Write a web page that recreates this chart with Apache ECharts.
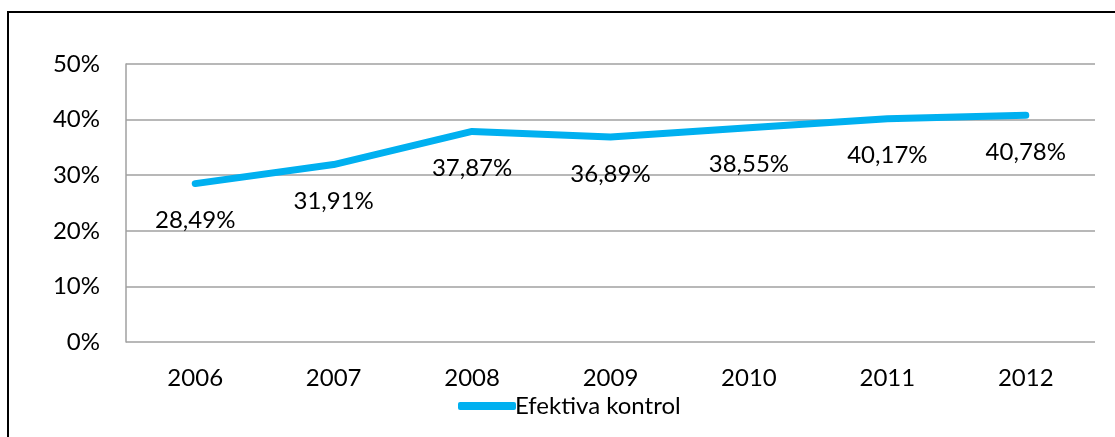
<!DOCTYPE html>
<html>
<head>
<meta charset="utf-8">
<script src="https://cdn.jsdelivr.net/npm/echarts@6/dist/echarts.min.js"></script>
<style>
  html, body { margin: 0; padding: 0; background: #fff; overflow: hidden; }
  #frame { position: absolute; left: 7px; top: 11px; width: 1200px; height: 500px; border: 2px solid #000; }
  #chart { position: absolute; left: 0; top: 0; width: 1115px; height: 437px; }
</style>
</head>
<body>
<div id="frame"></div>
<div id="chart"></div>
<script>
const years = ['2006', '2007', '2008', '2009', '2010', '2011', '2012']
const efektivaKontrol = [28.49, 31.91, 37.87, 36.89, 38.55, 40.17, 40.78]
const seriesName = 'Efektiva kontrol'

const font = 'Lato, "Open Sans", sans-serif'
const fs = 24
const blue = '#00b0f0'
const chart = echarts.init(document.getElementById('chart'), null, { renderer: 'canvas' })

chart.setOption({
  animation: false,
  textStyle: { fontFamily: font, color: '#000' },
  grid: { left: 126, right: 20, top: 64, bottom: 95 },
  legend: {
    data: [{ name: seriesName, icon: 'roundRect', itemStyle: { color: blue, opacity: 1 } }],
    left: 453,
    top: 389,
    itemWidth: 58,
    itemHeight: 8,
    itemGap: 4,
    textStyle: { fontFamily: font, fontSize: fs, color: '#000', padding: [0, 0, 0, -6] }
  },
  xAxis: {
    type: 'category',
    data: years,
    boundaryGap: true,
    axisLine: { show: false },
    axisTick: { show: false },
    axisLabel: { fontSize: fs, color: '#000', margin: 24, fontFamily: font }
  },
  yAxis: {
    type: 'value',
    min: 0,
    max: 50,
    interval: 10,
    axisLine: { show: true, lineStyle: { color: '#a0a0a0', width: 1.5 } },
    axisTick: { show: false },
    splitLine: { lineStyle: { color: '#a0a0a0', width: 1.5 } },
    axisLabel: { fontSize: fs, color: '#000', margin: 26, fontFamily: font, formatter: v => v + '%' }
  },
  series: [{
    name: seriesName,
    type: 'line',
    data: efektivaKontrol,
    symbol: 'circle',
    symbolSize: 2,
    showSymbol: true,
    showAllSymbol: true,
    color: blue,
    lineStyle: { color: blue, width: 7, cap: 'round', join: 'round' },
    itemStyle: { color: blue },
    label: {
      show: true,
      position: 'bottom',
      distance: 24,
      fontSize: fs,
      color: '#000',
      fontFamily: font,
      formatter: p => p.value.toFixed(2).replace('.', ',') + '%'
    }
  }]
})
</script>
</body>
</html>
